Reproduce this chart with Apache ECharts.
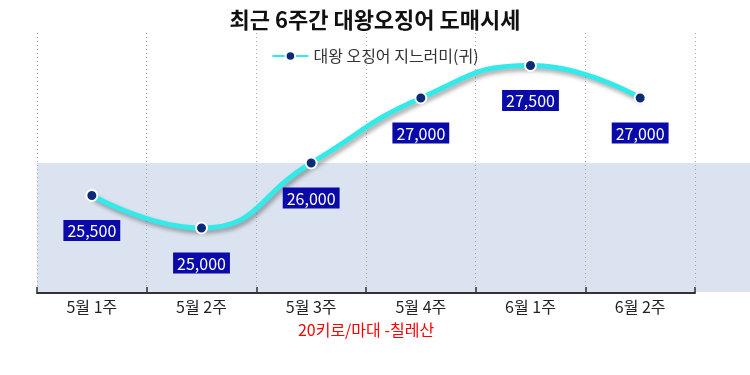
<!DOCTYPE html>
<html><head><meta charset="utf-8">
<script src="https://cdn.jsdelivr.net/npm/echarts@6/dist/echarts.min.js"></script>
<style>html,body{margin:0;padding:0;background:#fff}#c{width:750px;height:375px}</style>
</head><body><div id="c"></div>
<script>
const categories = ['5월 1주','5월 2주','5월 3주','5월 4주','6월 1주','6월 2주'];
const prices = [25500, 25000, 26000, 27000, 27500, 27000];
const seriesName = '대왕 오징어 지느러미(귀)';
const bandRange = [24000, 26000];

const chart = echarts.init(document.getElementById('c'));
const FONT = '"Noto Sans CJK KR","Noto Sans",sans-serif';
chart.setOption({
  backgroundColor: '#ffffff',
  animation: false,
  title: {
    text: '최근 6주간 대왕오징어 도매시세',
    left: 'center', top: 4,
    textStyle: {fontFamily: FONT, fontSize: 22, fontWeight: 'bold', color: '#111'}
  },
  legend: {
    top: 43, left: 'center',
    itemWidth: 36, itemHeight: 12, itemGap: 10,
    textStyle: {fontFamily: FONT, fontSize: 16, color: '#333'},
    data: [seriesName]
  },
  grid: {left: 37, right: 55, top: 33, bottom: 82},
  xAxis: {
    type: 'category', data: categories, boundaryGap: true,
    name: '20키로/마대 -칠레산', nameLocation: 'middle', nameGap: 29,
    nameTextStyle: {fontFamily: FONT, fontSize: 16, color: '#ff0000'},
    axisLine: {lineStyle: {color: '#333', width: 2}},
    axisTick: {show: true, inside: true, length: 6, lineStyle: {color: '#333', width: 1.5}},
    axisLabel: {fontFamily: FONT, fontSize: 16, color: '#222', margin: 6},
    splitLine: {show: true, lineStyle: {type: [1, 3], color: '#aaa', width: 1}}
  },
  yAxis: {type: 'value', min: 24000, max: 28000, show: false, splitLine: {show: false}},
  series: [{
    name: seriesName, type: 'line', data: prices, smooth: 0.5,
    symbol: 'circle', symbolSize: 11,
    lineStyle: {color: '#33eaea', width: 5, shadowColor: 'rgba(0,0,0,0.35)', shadowBlur: 4, shadowOffsetX: 2, shadowOffsetY: 3},
    itemStyle: {color: '#0b2a78', borderColor: '#ffffff', borderWidth: 2},
    label: {
      show: true, position: 'bottom', distance: 18,
      formatter: p => p.value.toLocaleString('en-US'),
      fontFamily: FONT, fontSize: 16, color: '#ffffff',
      backgroundColor: '#0a0aa8', padding: [3, 4, 2, 4]
    },
    z: 5
  }]
});

function drawBand() {
  const top = chart.convertToPixel({xAxisIndex: 0, yAxisIndex: 0}, [0, bandRange[1]]);
  const bot = chart.convertToPixel({xAxisIndex: 0, yAxisIndex: 0}, [0, bandRange[0]]);
  chart.setOption({
    graphic: [{
      type: 'rect', z: -1, silent: true,
      shape: {x: 37, y: top[1], width: 750 - 37, height: bot[1] - top[1] - 1},
      style: {fill: '#dae3ef'}
    }]
  });
}
drawBand();
</script></body></html>
